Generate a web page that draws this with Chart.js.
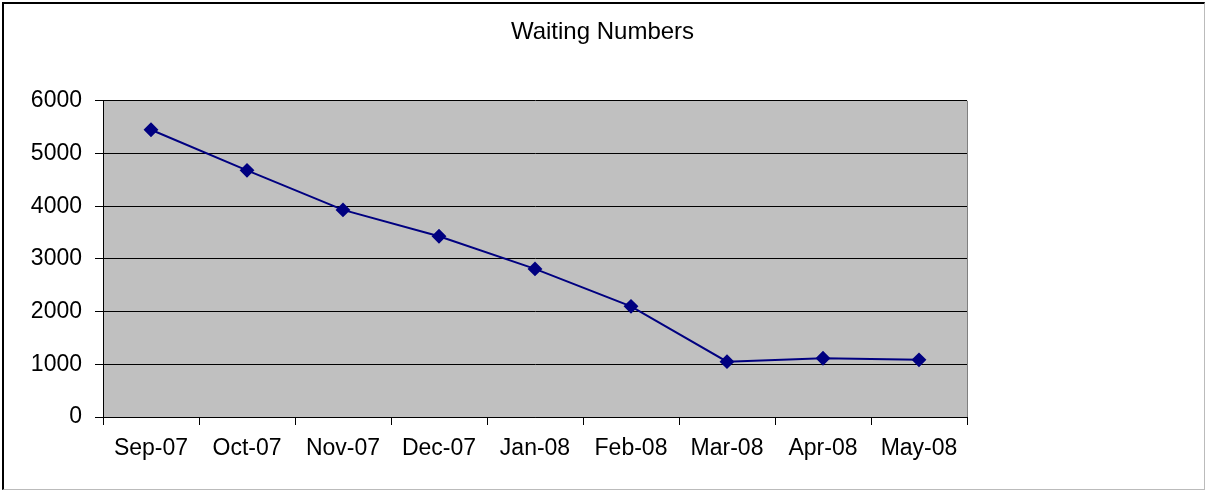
<!DOCTYPE html>
<html>
<head>
<meta charset="utf-8">
<script src="https://cdn.jsdelivr.net/npm/chart.js@4/dist/chart.umd.min.js"></script>
<style>
  html, body { margin: 0; padding: 0; background: #fff; }
  #wrap { position: relative; width: 1205px; height: 491px; }
  #frame {
    position: absolute; left: 2px; top: 2px; width: 1200px; height: 485px;
    border-left: 2px solid #000; border-top: 2px solid #000;
    border-right: 1px solid #bbb; border-bottom: 1px solid #bbb;
    pointer-events: none;
  }
</style>
</head>
<body>
<div id="wrap">
  <canvas id="waitChart" width="1205" height="491"></canvas>
  <div id="frame"></div>
</div>
<script>
// chart data
const months = ['Sep-07', 'Oct-07', 'Nov-07', 'Dec-07', 'Jan-08', 'Feb-08', 'Mar-08', 'Apr-08', 'May-08'];
const waiting = [5450, 4680, 3930, 3430, 2810, 2100, 1050, 1115, 1085];
const yTicks = [0, 1000, 2000, 3000, 4000, 5000, 6000];

const FONT = 'Liberation Sans, Arial, sans-serif';

// grey plot area like the old Excel charts
const plotBg = {
    id: 'plotBg',
    beforeDraw(chart) {
        const { ctx, chartArea: a } = chart;
        ctx.save();
        ctx.fillStyle = '#c0c0c0';
        ctx.fillRect(a.left, a.top, a.right - a.left, a.bottom - a.top);
        ctx.strokeStyle = '#808080';
        ctx.lineWidth = 1;
        ctx.beginPath();
        ctx.moveTo(a.right + 0.5, a.top);
        ctx.lineTo(a.right + 0.5, a.bottom);
        ctx.stroke();
        ctx.restore();
    }
};

const ctx = document.getElementById('waitChart').getContext('2d');
new Chart(ctx, {
    type: 'line',
    data: {
        labels: months,
        datasets: [{
            label: 'Waiting Numbers',
            data: waiting,
            borderColor: '#000080',
            backgroundColor: '#000080',
            borderWidth: 2,
            tension: 0,
            pointStyle: 'rectRot',
            pointRadius: 6,
            pointHoverRadius: 6
        }]
    },
    options: {
        responsive: false,
        animation: false,
        layout: {
            padding: { left: 0, right: 0, top: 0, bottom: 20 }
        },
        plugins: {
            legend: { display: false },
            tooltip: { enabled: false },
            title: {
                display: true,
                text: 'Waiting Numbers',
                color: '#000',
                font: { family: FONT, size: 24, weight: 'normal' },
                padding: { top: 18, bottom: 54 }
            }
        },
        scales: {
            x: {
                offset: true,
                grid: {
                    offset: true,
                    drawOnChartArea: false,
                    drawTicks: true,
                    tickLength: 8,
                    color: '#000'
                },
                border: { color: '#000', width: 1 },
                ticks: {
                    color: '#000',
                    padding: 10,
                    maxRotation: 0,
                    autoSkip: false,
                    font: { family: FONT, size: 23 }
                },
                afterFit(scale) { scale.height = 54; }
            },
            y: {
                min: 0,
                max: 6000,
                afterBuildTicks(scale) {
                    scale.ticks = yTicks.map(v => ({ value: v }));
                },
                grid: {
                    color: '#000',
                    tickLength: 8
                },
                border: { color: '#000', width: 1 },
                ticks: {
                    color: '#000',
                    padding: 13,
                    font: { family: FONT, size: 23 },
                    callback: v => String(v)
                },
                afterFit(scale) { scale.width = 103; }
            },
            // empty right-hand margin so the title stays centred on the whole frame
            spacer: {
                type: 'linear',
                position: 'right',
                grid: { display: false },
                border: { display: false },
                ticks: { display: false },
                afterFit(scale) { scale.width = 238; }
            }
        }
    },
    plugins: [plotBg]
});
</script>
</body>
</html>
